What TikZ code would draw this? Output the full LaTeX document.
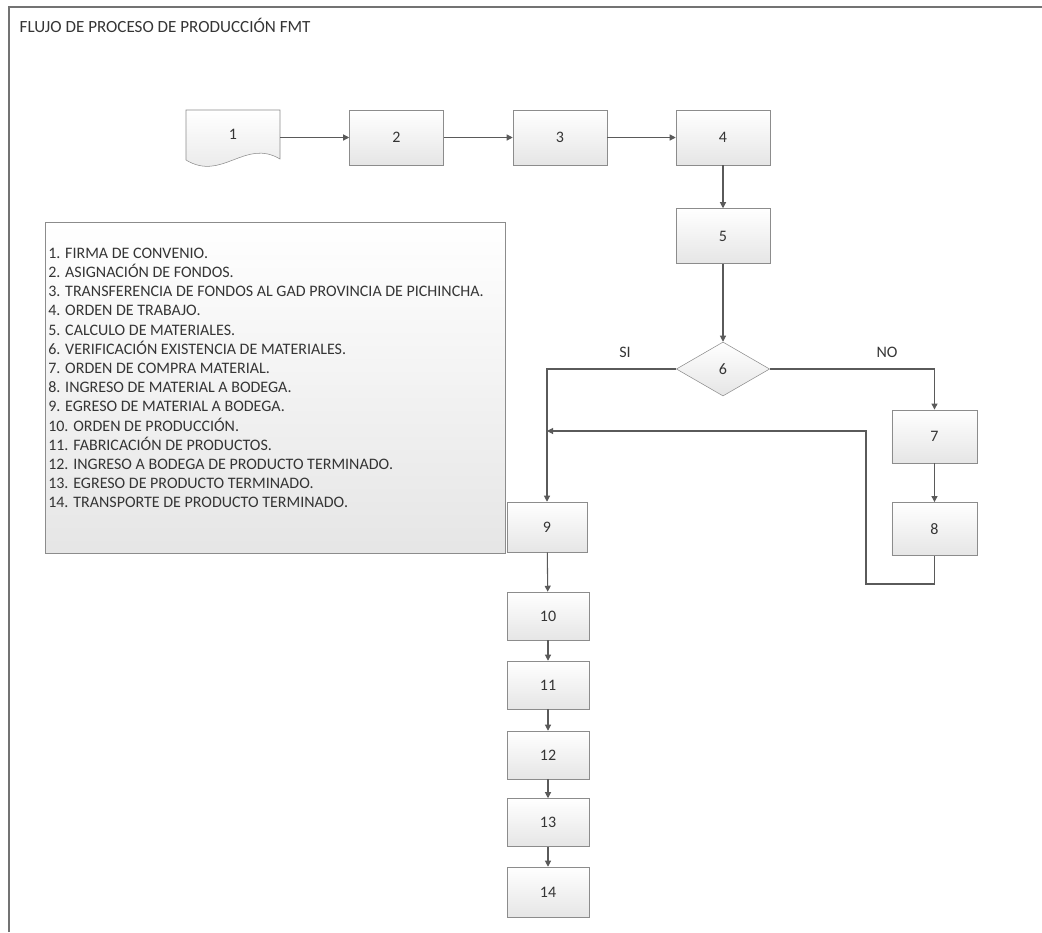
\documentclass[tikz,border=0pt]{standalone}
\usepackage{fontspec}
\setmainfont{Carlito}
\usepackage{tikz}
\usetikzlibrary{arrows.meta,shapes.geometric}

\definecolor{boxline}{HTML}{8C8C8C}
\definecolor{flowline}{HTML}{5A5A5A}
\definecolor{txtgray}{HTML}{353535}

\begin{document}
\begin{tikzpicture}[x=0.75pt,y=-0.75pt,
    font=\fontsize{12}{14.4}\selectfont, text=txtgray]
\useasboundingbox (0,0) rectangle (1042,932);

% frame and title
\draw[black!55,line width=1.2pt] (9,932) -- (9,7) -- (1042,7);
\node[anchor=west,font=\fontsize{12.8}{15}\selectfont] (title) at (15,25) {FLUJO DE PROCESO DE PRODUCCIÓN FMT};

% legend
\draw[boxline,top color=white,bottom color=black!10] (45,222) rectangle (505,553);
\node[anchor=west,align=left,inner sep=0pt] (legend) at (48,378) {%
1. FIRMA DE CONVENIO.\\
2. ASIGNACIÓN DE FONDOS.\\
3. TRANSFERENCIA DE FONDOS AL GAD PROVINCIA DE PICHINCHA.\\
4. ORDEN DE TRABAJO.\\
5. CALCULO DE MATERIALES.\\
6. VERIFICACIÓN EXISTENCIA DE MATERIALES.\\
7. ORDEN DE COMPRA MATERIAL.\\
8. INGRESO DE MATERIAL A BODEGA.\\
9. EGRESO DE MATERIAL A BODEGA.\\
10. ORDEN DE PRODUCCIÓN.\\
11. FABRICACIÓN DE PRODUCTOS.\\
12. INGRESO A BODEGA DE PRODUCTO TERMINADO.\\
13. EGRESO DE PRODUCTO TERMINADO.\\
14. TRANSPORTE DE PRODUCTO TERMINADO.};

% document shape for step 1
\draw[boxline,top color=white,bottom color=black!10]
  (186,110) -- (280,110) -- (280,159)
  .. controls (245,138) and (222,182) .. (186,160) -- cycle;

\begin{scope}[every node/.style={rectangle,draw=boxline,top color=white,
              bottom color=black!10,minimum width=70.5pt,minimum height=41.25pt}]
    \node[draw=none,top color=white,bottom color=white,opacity=0,text opacity=1] (n1) at (233,137.5) {\raisebox{4pt}{1}};
    \node (n2) at (396.5,137.5) {2};
    \node (n3) at (560,137.5) {3};
    \node (n4) at (723,137.5) {4};
    \node (n5) at (723,236) {5};
    \node[diamond,inner sep=0pt,minimum width=70pt,minimum height=40.5pt] (n6) at (723,369) {6};
    \node[minimum width=64pt,minimum height=40pt] (n7) at (934.5,436.5) {7};
    \node[minimum width=64pt,minimum height=40pt] (n8) at (934.5,529) {8};
    \node[minimum width=60pt,minimum height=37.5pt] (n9) at (547,527) {9};
    \node[minimum width=61.5pt,minimum height=36pt] (n10) at (548,616) {10};
    \node[minimum width=61.5pt,minimum height=36pt] (n11) at (548,685) {11};
    \node[minimum width=61.5pt,minimum height=36pt] (n12) at (548,755) {12};
    \node[minimum width=61.5pt,minimum height=36pt] (n13) at (548,822.5) {13};
    \node[minimum width=61.5pt,minimum height=37.5pt] (n14) at (548,892) {14};
\end{scope}

\node (si) at (625,352) {SI};
\node (no) at (887,352) {NO};
\coordinate (back) at (866,584);
\coordinate (merge) at (547,431);

\begin{scope}[>={Triangle[length=4.5pt,width=4.5pt]},
              every edge/.style={draw=flowline,line width=0.8pt}]
    \path [->] (n1.east |- n2) edge (n2);
    \path [->] (n2) edge (n3);
    \path [->] (n3) edge (n4);
    \path [->] (n4) edge (n5);
    \path [->] (n5) edge (n6);
    \path [->] (n6.west) edge[to path={-| (\tikztotarget)}] (n9.north);
    \path [->] (n6.east) edge[to path={-| (\tikztotarget)}] (n7.north);
    \path [->] (n7) edge (n8);
    \path [->] (n8.south) edge[to path={|- (back) |- (\tikztotarget)}] (merge);
    \path [->] (n9) edge (n10);
    \path [->] (n10) edge (n11);
    \path [->] (n11) edge (n12);
    \path [->] (n12) edge (n13);
    \path [->] (n13) edge (n14);
\end{scope}
\end{tikzpicture}
\end{document}
